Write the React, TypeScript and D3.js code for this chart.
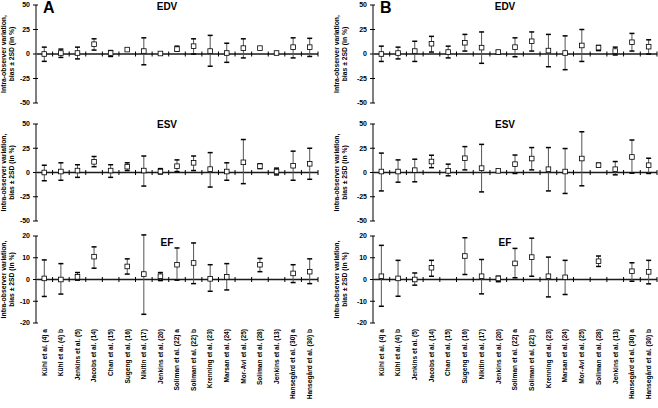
import React from "react";
import * as d3 from "d3";

const categories = [
  "Kühl et al. (4) a",
  "Kühl et al. (4) b",
  "Jenkins et al. (5)",
  "Jacobs et al. (14)",
  "Chan et al. (15)",
  "Sugeng et al. (16)",
  "Nikitin et al. (17)",
  "Jenkins et al. (20)",
  "Soliman et al. (22) a",
  "Soliman et al. (22) b",
  "Krenning et al. (23)",
  "Marsan et al. (24)",
  "Mor-Avi et al. (25)",
  "Soliman et al. (28)",
  "Jenkins et al. (13)",
  "Hansegård et al. (30) a",
  "Hansegård et al. (30) b",
];

type Pt = [number, number, number] | null; // [bias, bias - 2SD, bias + 2SD]

// panel A
const aEDV: Pt[] = [
  [0, -7.5, 7], [1, -3.5, 5], [1, -5, 7], [10, 4, 15.5], [1, -2.5, 3.5],
  [4.5, 4.5, 4.5], [3, -11, 16.5], [0.5, 0.5, 0.5], [5, 3, 8], [8, 0, 15.5],
  [3, -12.5, 19], [1, -8.5, 11], [6, -4, 15.5], [6, 6, 6], [1, 1, 1],
  [7, -4, 16.5], [7, -2.5, 16],
];
const aESV: Pt[] = [
  [0, -8.5, 7.5], [1, -8, 10], [2, -5, 8], [11, 6, 16.5], [2, -5, 8],
  [6, 2, 10], [2, -14, 17], [1, -1.5, 4], [6.5, 1, 13], [10, 2, 17],
  [3.5, -15, 20.5], [1, -8, 10], [10.5, -11.5, 34], [6.5, 4, 9], [1, -2.5, 4.5],
  [7, -8, 22], [9, -7, 25],
];
const aEF: Pt[] = [
  [0.5, -7.8, 9], [0, -6.7, 7.3], [1.2, -0.3, 3.2], [10.5, 5.2, 15], null,
  [6, 2.5, 9.5], [2.5, -16, 20.5], [1.5, -0.5, 3.2], [6.8, -0.3, 14.5], [7.6, -1.9, 16.8],
  [0.3, -5.4, 6.8], [1.2, -4.8, 7.3], null, [6.8, 3.6, 9.7], null,
  [2.8, -1.4, 6.8], [3.6, -1.9, 9.5],
];

// panel B
const bEDV: Pt[] = [
  [0, -7.6, 8], [1, -5, 7], [3, -7.6, 13], [10.5, 2, 18], [2, -4, 8],
  [11.5, 3, 20], [6.5, -9.5, 22.5], [2, 0, 3.5], [7, -2.8, 16.5], [13, 3, 22.5],
  [3.5, -13, 20], [1, -16, 18.5], [8.7, -7.6, 25], [6.5, 3.5, 8.7], [3, -1, 7],
  [12, 3, 21], [7.5, 0, 14.5],
];
const bESV: Pt[] = [
  [1, -19, 20], [1, -10, 13], [2.4, -9.6, 13.7], [11.3, 5, 17.8], [1.7, -3.4, 8.6],
  [14.7, 2.7, 26.7], [4.5, -20, 29], [1.7, 1.7, 1.7], [8.6, -1, 18], [14.4, 2.7, 25.7],
  [3.4, -19, 25.7], [1, -21.6, 24.7], [14.4, -13.7, 42], [7.5, 5.8, 9.6], [3.4, -2.4, 11.3],
  [16, -0.7, 33.5], [7.5, -1, 14.7],
];
const bEF: Pt[] = [
  [1.5, -12.3, 15.7], [0.5, -7.7, 8.8], [0, -2.6, 3], [5.4, 1.5, 8.8], null,
  [10.8, 2.3, 19.2], [1.5, -6.6, 9.2], [0.5, -1, 1.5], [7.4, 0.8, 14.3], [10.3, 1.5, 19],
  [1.5, -8, 10.3], [1, -6.9, 8.8], null, [8.4, 6, 10.8], null,
  [3.8, -0.8, 7.7], [3.5, -2, 8.8],
];

const volTicks = [50, 25, 0, -25, -50];
const efTicks = [20, 10, 0, -10, -20];

const FONT = "'Liberation Sans', Arial, sans-serif";

type SubProps = {
  x: d3.ScaleBand<string>;
  top: number;
  bottom: number;
  ticks: number[];
  data: Pt[];
  title: string;
  titleY: number;
};

function SubPlot({ x, top, bottom, ticks, data, title, titleY }: SubProps) {
  const lim = d3.max(ticks) as number;
  const y = d3.scaleLinear().domain([-lim, lim]).range([bottom, top]);
  const [x0, x1] = x.range();
  const bw = x.bandwidth();
  const mid = (x0 + x1) / 2;
  const zero = y(0);
  return (
    <g>
      {/* y axis */}
      <line x1={x0} x2={x0} y1={top} y2={bottom} stroke="#000" strokeWidth={1} />
      {ticks.map((t) => (
        <g key={t}>
          <line x1={x0 - 3} x2={x0 + 2} y1={y(t)} y2={y(t)} stroke="#000" strokeWidth={1} />
          <text
            x={x0 - 6}
            y={y(t)}
            dy="0.35em"
            textAnchor="end"
            fontSize={7}
            fontWeight="bold"
            fontFamily={FONT}
          >
            {t}
          </text>
        </g>
      ))}
      {/* zero line with band ticks */}
      <line x1={x0} x2={x1} y1={zero} y2={zero} stroke="#888" strokeWidth={2} />
      <line x1={x0} x2={x1} y1={zero} y2={zero} stroke="#000" strokeWidth={0.8} />
      {categories.map((c) => (
        <line
          key={c}
          x1={(x(c) as number) + bw}
          x2={(x(c) as number) + bw}
          y1={zero - 2.5}
          y2={zero + 2.5}
          stroke="#000"
          strokeWidth={1}
        />
      ))}
      {/* error bars */}
      {data.map((d, i) => {
        if (!d) return null;
        const cx = (x(categories[i]) as number) + bw / 2;
        const [m, lo, hi] = d;
        return (
          <g key={i}>
            {hi !== lo && (
              <>
                <line x1={cx} x2={cx} y1={y(lo)} y2={y(hi)} stroke="#555" strokeWidth={1} />
                <line x1={cx - 2.5} x2={cx + 2.5} y1={y(hi)} y2={y(hi)} stroke="#000" strokeWidth={1.5} />
                <line x1={cx - 2.5} x2={cx + 2.5} y1={y(lo)} y2={y(lo)} stroke="#000" strokeWidth={1.5} />
              </>
            )}
            <rect
              x={cx - 2.3}
              y={y(m) - 2.3}
              width={4.6}
              height={4.6}
              fill="#fff"
              stroke="#000"
              strokeWidth={0.8}
            />
          </g>
        );
      })}
      <text
        x={mid - 10}
        y={titleY}
        textAnchor="middle"
        fontSize={10}
        fontWeight="bold"
        fontFamily={FONT}
      >
        {title}
      </text>
    </g>
  );
}

function Panel({
  left,
  right,
  letter,
  labelX,
  sets,
}: {
  left: number;
  right: number;
  letter: string;
  labelX: number;
  sets: Pt[][];
}) {
  const x = d3.scaleBand<string>().domain(categories).range([left, right]).padding(0);
  const bw = x.bandwidth();
  const rows = [
    { top: 5, bottom: 103, ticks: volTicks, title: "EDV", titleY: 10 },
    { top: 124, bottom: 221, ticks: volTicks, title: "ESV", titleY: 128 },
    { top: 236, bottom: 323, ticks: efTicks, title: "EF", titleY: 246 },
  ];
  return (
    <g>
      <text x={left + 7} y={13} fontSize={16} fontWeight="bold" fontFamily={FONT}>
        {letter}
      </text>
      {rows.map((r, k) => {
        const cy = (r.top + r.bottom) / 2;
        return (
          <g key={r.title}>
            <SubPlot x={x} {...r} data={sets[k]} />
            <text
              transform={`translate(${labelX},${cy}) rotate(-90)`}
              textAnchor="middle"
              fontSize={6.8}
              fontWeight="bold"
              fontFamily={FONT}
            >
              <tspan x={0} dy={0}>Intra-observer variation,</tspan>
              <tspan x={0} dy={7.5}>bias ± 2SD (in %)</tspan>
            </text>
          </g>
        );
      })}
      {categories.map((c) => {
        const cx = (x(c) as number) + bw / 2;
        return (
          <text
            key={c}
            transform={`translate(${cx},329) rotate(-90)`}
            textAnchor="end"
            dy="0.35em"
            fontSize={6.6}
            fontWeight="bold"
            fontFamily={FONT}
          >
            {c}
          </text>
        );
      })}
    </g>
  );
}

export default function App() {
  return (
    <svg
      width={658}
      height={408}
      style={{ position: "absolute", left: 0, top: 0, background: "#fff" }}
    >
      <rect width={658} height={408} fill="#fff" />
      <Panel left={36} right={318} letter="A" labelX={6} sets={[aEDV, aESV, aEF]} />
      <Panel left={373} right={657} letter="B" labelX={339} sets={[bEDV, bESV, bEF]} />
    </svg>
  );
}
